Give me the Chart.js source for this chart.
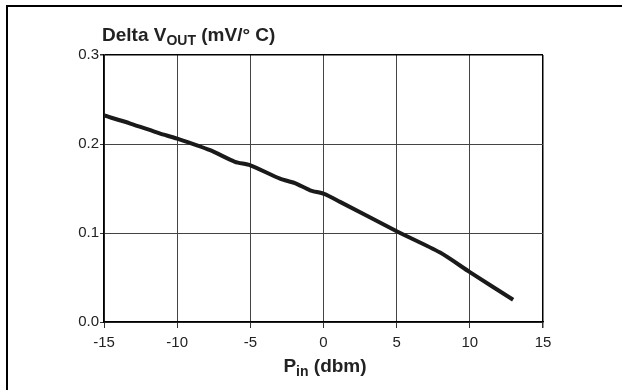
<!DOCTYPE html>
<html>
<head>
<meta charset="utf-8">
<script src="https://cdn.jsdelivr.net/npm/chart.js@4/dist/chart.umd.min.js"></script>
<style>
  html, body { margin: 0; padding: 0; background: #fff; }
  #wrap { position: relative; width: 622px; height: 390px; overflow: hidden; }
  #frame { position: absolute; left: 6px; top: 5px; width: 620px; height: 390px;
           border-left: 2px solid #000; border-top: 2px solid #000; box-sizing: border-box; }
  .lbl { position: absolute; font-family: "Liberation Sans", Arial, sans-serif; font-weight: bold;
         font-size: 19px; line-height: 19px; color: #222; white-space: nowrap; }
  .lbl sub { font-size: 14px; vertical-align: -4px; line-height: 0; }
  #ytitle { left: 102px; top: 25px; }
  #xtitle { left: 325px; top: 356px; transform: translateX(-50%); }
</style>
</head>
<body>
<div id="wrap">
  <canvas id="c" width="622" height="390"></canvas>
  <div id="frame"></div>
  <div class="lbl" id="ytitle">Delta V<sub>OUT</sub> (mV/° C)</div>
  <div class="lbl" id="xtitle">P<sub>in</sub> (dbm)</div>
</div>
<script>
const pinDbm = [-15, -13.2, -11.2, -10, -7.75, -6.05, -5, -2.97, -1.95, -0.92, 0.04, 1.13, 5.0, 7.97, 10.0, 12.96];
const deltaVout = [0.232, 0.223, 0.212, 0.206, 0.193, 0.180, 0.176, 0.161, 0.156, 0.148, 0.144, 0.135, 0.102, 0.078, 0.056, 0.025];
const xTicks = [-15, -10, -5, 0, 5, 10, 15];
const yTicks = [0.0, 0.1, 0.2, 0.3];

const points = pinDbm.map((x, i) => ({ x: x, y: deltaVout[i] }));
const tickFont = { family: '"Liberation Sans", Arial, sans-serif', size: 15 };

new Chart(document.getElementById('c'), {
  type: 'scatter',
  data: {
    datasets: [{
      data: points,
      showLine: true,
      borderColor: '#1a1a1a',
      borderWidth: 4,
      pointRadius: 0,
      tension: 0.25,
      fill: false
    }]
  },
  options: {
    responsive: false,
    animation: false,
    events: [],
    layout: { padding: { left: 0, right: 79, top: 55, bottom: 0 } },
    plugins: { legend: { display: false }, tooltip: { enabled: false }, title: { display: false } },
    scales: {
      x: {
        type: 'linear',
        min: xTicks[0], max: xTicks[xTicks.length - 1],
        afterBuildTicks: s => { s.ticks = xTicks.map(v => ({ value: v })); },
        afterFit: s => { s.height = 68; },
        ticks: { color: '#222', font: tickFont, padding: 6, maxRotation: 0, callback: v => String(v) },
        grid: {
          color: ctx => (ctx.index === xTicks.length - 1 ? '#000' : '#444'),
          lineWidth: ctx => (ctx.index === xTicks.length - 1 ? 1.5 : 1),
          tickLength: 6, tickColor: '#333'
        },
        border: { color: '#000', width: 1.5 }
      },
      y: {
        type: 'linear',
        min: yTicks[0], max: yTicks[yTicks.length - 1],
        afterBuildTicks: s => { s.ticks = yTicks.map(v => ({ value: v })); },
        afterFit: s => { s.width = 104; },
        ticks: { color: '#222', font: tickFont, padding: 1, callback: v => Number(v).toFixed(1) },
        grid: {
          color: ctx => (ctx.index === yTicks.length - 1 ? '#000' : '#444'),
          lineWidth: ctx => (ctx.index === yTicks.length - 1 ? 1.5 : 1),
          tickLength: 4, tickColor: '#333'
        },
        border: { color: '#000', width: 1.5 }
      }
    }
  }
});
</script>
</body>
</html>
